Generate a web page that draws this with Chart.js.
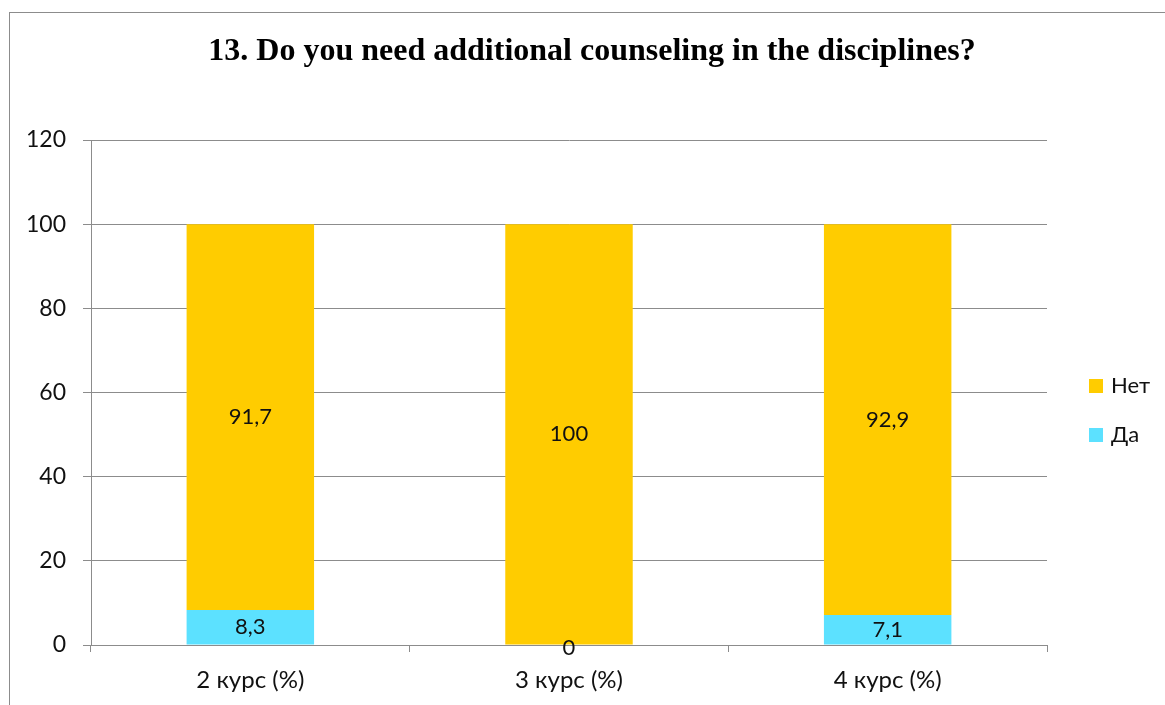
<!DOCTYPE html>
<html lang="ru">
<head>
<meta charset="UTF-8">
<title>13. Do you need additional counseling in the disciplines?</title>
<script src="https://cdn.jsdelivr.net/npm/chart.js"></script>
<style>
    html, body { margin: 0; padding: 0; background: #fff; overflow: hidden; }
    .frame { position: absolute; left: 9px; top: 12px; width: 1200px; height: 760px;
             border-left: 1px solid #8c8c8c; border-top: 1px solid #8c8c8c; pointer-events: none; }
    #chart { position: absolute; left: 0; top: 0; }
</style>
</head>
<body>
<canvas id="chart" width="1165" height="705"></canvas>
<div class="frame"></div>

<script>
// data
const categories = ['2 курс (%)', '3 курс (%)', '4 курс (%)'];
const yesValues = [8.3, 0, 7.1];     // Да
const noValues = [91.7, 100, 92.9];  // Нет
const yTicks = [0, 20, 40, 60, 80, 100, 120];
const chartTitle = '13. Do you need additional counseling in the disciplines?';

const YELLOW = '#FFCC00';
const CYAN = '#5CE1FF';
const GRID = '#8c8c8c';
const FONT = 'Lato, "Open Sans", sans-serif';
const FS = 22;

// title drawn over the whole canvas width
const topTitle = {
    id: 'topTitle',
    afterDraw(chart) {
        const ctx = chart.ctx;
        ctx.save();
        ctx.font = 'bold 32px "Liberation Serif", "Times New Roman", serif';
        ctx.fillStyle = '#000';
        ctx.textAlign = 'center';
        ctx.textBaseline = 'middle';
        ctx.fillText(chartTitle, 592, 52);
        ctx.restore();
    }
};

// values written in the middle of each segment, comma as decimal mark
const valueLabels = {
    id: 'valueLabels',
    afterDatasetsDraw(chart) {
        const ctx = chart.ctx;
        ctx.save();
        ctx.font = FS + 'px ' + FONT;
        ctx.fillStyle = '#111';
        ctx.textAlign = 'center';
        ctx.textBaseline = 'middle';
        chart.data.datasets.forEach((ds, i) => {
            chart.getDatasetMeta(i).data.forEach((bar, j) => {
                const p = bar.getProps(['x', 'y', 'base'], true);
                const txt = String(ds.data[j]).replace('.', ',');
                let y = (p.y + p.base) / 2;
                if (ds.data[j] === 0) y += 3;
                ctx.fillText(txt, p.x, y);
            });
        });
        ctx.restore();
    }
};

// legend on the right, Нет above Да
const sideLegend = {
    id: 'sideLegend',
    afterDraw(chart) {
        const ctx = chart.ctx;
        ctx.save();
        ctx.font = FS + 'px ' + FONT;
        ctx.textBaseline = 'middle';
        const items = chart.data.datasets.slice().reverse();
        items.forEach((ds, k) => {
            const cy = 386 + k * 49;
            ctx.fillStyle = ds.backgroundColor;
            ctx.fillRect(1089, cy - 7, 14, 14);
            ctx.fillStyle = '#111';
            ctx.fillText(ds.label, 1111, cy);
        });
        ctx.restore();
    }
};

const whiteBg = {
    id: 'whiteBg',
    beforeDraw(chart) {
        const ctx = chart.ctx;
        ctx.save();
        ctx.fillStyle = '#fff';
        ctx.fillRect(0, 0, chart.width, chart.height);
        ctx.restore();
    }
};

new Chart(document.getElementById('chart').getContext('2d'), {
    type: 'bar',
    data: {
        labels: categories,
        datasets: [
            { label: 'Да', data: yesValues, backgroundColor: CYAN, categoryPercentage: 1, barPercentage: 0.4 },
            { label: 'Нет', data: noValues, backgroundColor: YELLOW, categoryPercentage: 1, barPercentage: 0.4 }
        ]
    },
    options: {
        responsive: false,
        animation: false,
        layout: { padding: { left: 0, right: 118, top: 140, bottom: 0 } },
        plugins: {
            legend: { display: false },
            tooltip: { enabled: false },
            title: { display: false }
        },
        scales: {
            x: {
                stacked: true,
                grid: { display: true, drawOnChartArea: false, drawTicks: true, tickLength: 7, color: GRID, offset: true },
                border: { display: true, color: GRID, width: 1 },
                ticks: { color: '#111', font: { family: FONT, size: 24 }, padding: 14 },
                afterFit(scale) { scale.height = 60; }
            },
            y: {
                stacked: true,
                min: 0,
                max: 120,
                afterBuildTicks(scale) { scale.ticks = yTicks.map(v => ({ value: v })); },
                grid: { color: GRID, tickLength: 8, lineWidth: 1 },
                border: { display: true, color: GRID, width: 1 },
                ticks: { color: '#111', font: { family: FONT, size: 23 }, padding: 17 },
                afterFit(scale) { scale.width = 91; }
            }
        }
    },
    plugins: [whiteBg, valueLabels, sideLegend, topTitle]
});
</script>
</body>
</html>
